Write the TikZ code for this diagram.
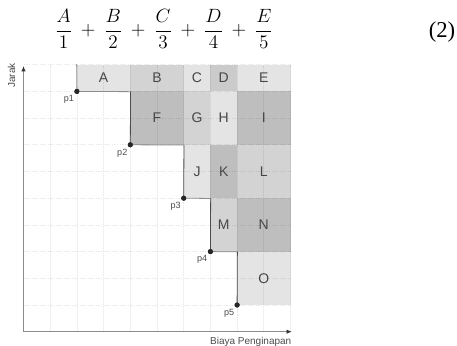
\documentclass[tikz,border=0pt]{standalone}
\usepackage{fontspec}
\setmainfont{Liberation Serif}
\newfontfamily\chartfont{Liberation Sans}
\usetikzlibrary{arrows.meta}
\def\cellu{20.025pt}
\definecolor{cL}{HTML}{E4E4E4}
\definecolor{cM}{HTML}{D3D3D3}
\definecolor{cD}{HTML}{BEBEBE}
\definecolor{cDM}{HTML}{CBCBCB}
\begin{document}
\begin{tikzpicture}[
  box/.style={draw=none, inner sep=0pt, minimum width=#1*\cellu, minimum height=\cellu,
    font=\chartfont\fontsize{10.5}{12}\selectfont, text=black!72},
  tallbox/.style={box=#1, minimum height=2*\cellu},
  dot/.style={circle, fill=black!85, inner sep=0pt, minimum size=3.8pt},
  plabel/.style={font=\chartfont\fontsize{6.8}{8}\selectfont, text=black!70, inner sep=0pt},
  axislabel/.style={font=\chartfont\fontsize{7.5}{9}\selectfont, text=black!70, inner sep=0pt},
  gridline/.style={black, opacity=0.09, dash pattern=on 1.2pt off 0.8pt, line width=0.5pt},
  axis/.style={black!45, line width=0.7pt, -{Latex[length=4pt,width=3.4pt,fill=black!80,color=black!80]}},
  hstep/.style={black!45, line width=0.6pt},
  vstep/.style={black!70, line width=0.6pt}
]
\useasboundingbox (0,0) rectangle (342.75pt,259.5pt);
% equation
\node[inner sep=0pt] (eq) at (123pt,237.5pt)
  {\fontsize{13.5}{16}\selectfont$\displaystyle \frac{A}{1}\mkern4mu+\mkern4mu\frac{B}{2}\mkern4mu+\mkern4mu\frac{C}{3}\mkern4mu+\mkern4mu\frac{D}{4}\mkern4mu+\mkern4mu\frac{E}{5}$};
\node[inner sep=0pt, font=\fontsize{17}{19}\selectfont] (eqnum) at (331.5pt,235.5pt) {(2)};
\begin{scope}[shift={(17.625pt,10.725pt)}, x=\cellu, y=\cellu]
  % cells
  \node[box=2, fill=cL] (A) at (3,9.5) {A};
  \node[box=2, fill=cM] (B) at (5,9.5) {B};
  \node[box=1, fill=cL] (C) at (6.5,9.5) {C};
  \node[box=1, fill=cDM] (D) at (7.5,9.5) {D};
  \node[box=2, fill=cL] (E) at (9,9.5) {E};
  \node[tallbox=2, fill=cD] (F) at (5,8) {F};
  \node[tallbox=1, fill=cM] (G) at (6.5,8) {G};
  \node[tallbox=1, fill=cL] (H) at (7.5,8) {H};
  \node[tallbox=2, fill=cD] (I) at (9,8) {I};
  \node[tallbox=1, fill=cL] (J) at (6.5,6) {J};
  \node[tallbox=1, fill=cD] (K) at (7.5,6) {K};
  \node[tallbox=2, fill=cM] (L) at (9,6) {L};
  \node[tallbox=1, fill=cM] (M) at (7.5,4) {M};
  \node[tallbox=2, fill=cD] (N) at (9,4) {N};
  \node[tallbox=2, fill=cL] (O) at (9,2) {O};
  % grid
  \foreach \i in {1,...,10} {
    \draw[gridline] (\i,0) -- (\i,10);
    \draw[gridline] (0,\i) -- (10,\i);
  }
  % axes
  \coordinate (origin) at (0,0);
  \coordinate (xend) at (10.05,0);
  \coordinate (yend) at (0,9.95);
  \draw[axis] (origin) -- (xend);
  \draw[axis] (origin) -- (yend);
  \node[axislabel, anchor=north east] (xlabel) at (10.04,-0.2) {Biaya Penginapan};
  \node[axislabel, rotate=90] (ylabel) at (-0.45,9.6) {Jarak};
  % points
  \node[dot] (p1) at (2,9) {};
  \node[dot] (p2) at (4,7) {};
  \node[dot] (p3) at (6,5) {};
  \node[dot] (p4) at (7,3) {};
  \node[dot] (p5) at (8,1) {};
  % staircase
  \draw[hstep] (p1.center) -- (A.south east);
  \draw[vstep] (A.south east) -- (p2.center);
  \draw[hstep] (p2.center) -- (F.south east);
  \draw[vstep] (F.south east) -- (p3.center);
  \draw[hstep] (p3.center) -- (J.south east);
  \draw[vstep] (J.south east) -- (p4.center);
  \draw[hstep] (p4.center) -- (M.south east);
  \draw[vstep] (M.south east) -- (p5.center);
  \draw[hstep] (p1.center) -- (A.north west);
  \foreach \p in {p1,p2,p3,p4,p5} \node[dot] at (\p) {};
  % point labels
  \node[plabel] (lp1) at (1.7,8.7) {p1};
  \node[plabel] (lp2) at (3.7,6.7) {p2};
  \node[plabel] (lp3) at (5.7,4.7) {p3};
  \node[plabel] (lp4) at (6.69,2.71) {p4};
  \node[plabel] (lp5) at (7.7,0.7) {p5};
\end{scope}
\end{tikzpicture}
\end{document}
